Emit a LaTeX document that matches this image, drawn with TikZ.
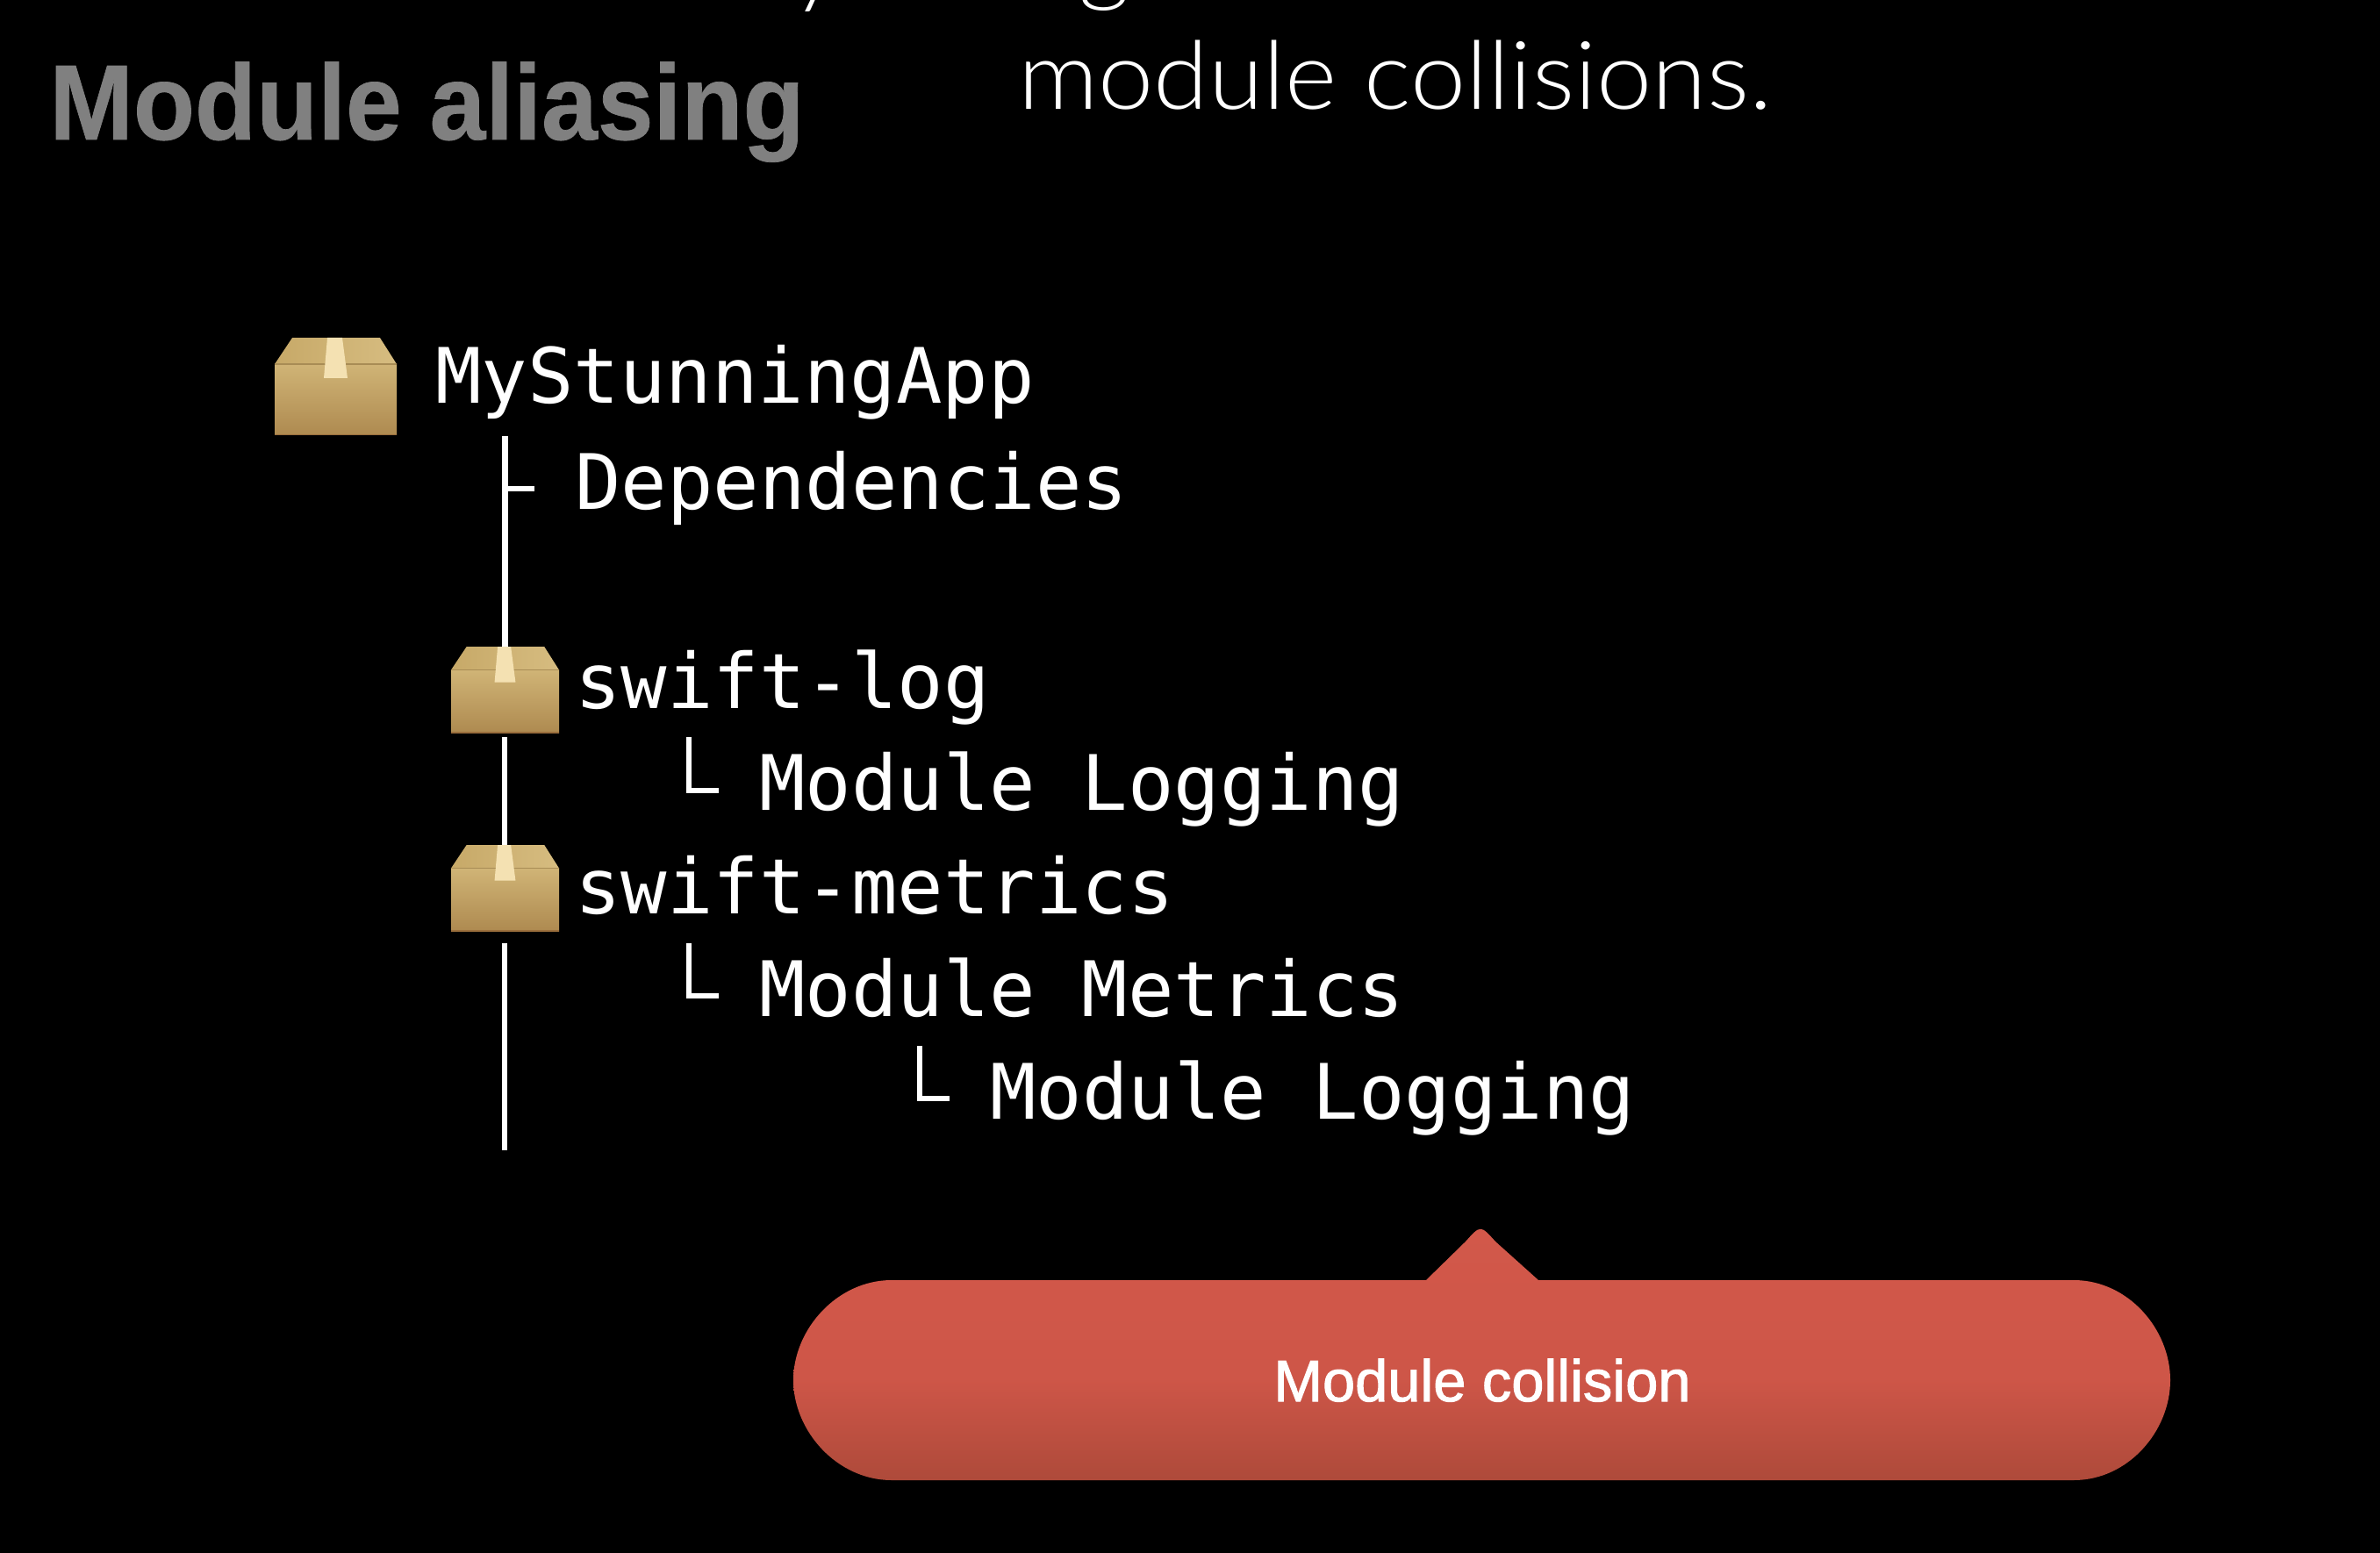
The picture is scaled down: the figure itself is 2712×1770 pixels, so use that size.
\documentclass[tikz,border=0pt]{standalone}
\usepackage{fontspec}
\setmainfont{Liberation Sans}
\newfontfamily\codefont{DejaVu Sans Mono}
\newfontfamily\lightfont{Lato}[UprightFont=* Light,FakeStretch=1.05]
\newfontfamily\titlefont{Liberation Sans Bold}[FakeStretch=0.94,FakeBold=0.6]
\newfontfamily\tagfont{Liberation Sans}[FakeBold=1.6]
\definecolor{bubblet}{HTML}{D2584A}
\definecolor{bubblem}{HTML}{CE5648}
\definecolor{bubbleb}{HTML}{AE4A3A}
\definecolor{cardflap}{HTML}{C7A968}
\definecolor{cardflaplight}{HTML}{D6BC80}
\definecolor{cardfronttop}{HTML}{D0B476}
\definecolor{cardfrontmid}{HTML}{CBAD6E}
\definecolor{cardfrontbot}{HTML}{AE8A50}
\definecolor{cardedge}{HTML}{9A6E3C}
\definecolor{cardfold}{HTML}{A88C55}
\definecolor{cardtape}{HTML}{F4E1B2}
\pgfdeclareverticalshading{bubbleshade}{100bp}{color(0bp)=(bubbleb); color(25bp)=(bubbleb); color(45bp)=(bubblem); color(75bp)=(bubblet); color(100bp)=(bubblet)}
\tikzset{
  code/.style={font=\codefont\fontsize{43.6}{50}\selectfont,text=white,anchor=base west,inner sep=0pt},
  rule/.style={draw=white,line width=3.5pt,line cap=butt},
  thinrule/.style={draw=white,line width=3pt,line cap=butt},
  elbow/.style={draw=white,line width=3.2pt,line cap=butt,line join=miter},
  pkgbox/.pic={
    \path[left color=cardflap,right color=cardflaplight]
      (0,30) -- (20,0) -- (120,0) -- (139,30) -- cycle;
    \path[top color=cardfronttop,middle color=cardfrontmid,bottom color=cardfrontbot] (0,30) rectangle (139,111);
    \draw[cardedge,line width=.8pt] (0,110.7) -- (139,110.7);
    \draw[cardfold,line width=.6pt] (0,30) -- (139,30);
    \fill[cardtape] (60,0) -- (77,0) -- (83,46) -- (56,46) -- cycle;
  }
}
\begin{document}
\begin{tikzpicture}[x=0.5pt,y=-0.5pt]
\useasboundingbox (0,0) rectangle (2712,1770);
\clip (0,0) rectangle (2712,1770);
\fill[black] (0,0) rectangle (2712,1770);

% cut-off line of the slide text
\node[font=\lightfont\fontsize{54}{60}\selectfont,text=white,anchor=base,inner sep=0pt] (topy) at (930,-5) {y};
\node[font=\lightfont\fontsize{54}{60}\selectfont,text=white,anchor=base,inner sep=0pt] (topg) at (1258,-7) {g};
\node[font=\lightfont\fontsize{54}{60}\selectfont,text=white,anchor=base west,inner sep=0pt] (sub) at (1160,125) {module collisions.};
\node[font=\titlefont\fontsize{61}{70}\selectfont,text=black!50,anchor=base west,inner sep=0pt] (title) at (56,159) {Module aliasing};

% tree lines
\coordinate (a1) at (575,497); \coordinate (a2) at (575,745);
\coordinate (b1) at (575,840); \coordinate (b2) at (575,970);
\coordinate (c1) at (575,1075); \coordinate (c2) at (575,1311);
\coordinate (t1) at (575,557); \coordinate (t2) at (609,557);
\draw[rule] (a1) -- (a2);
\draw[thinrule] (t1) -- (t2);
\draw[thinrule] (b1) -- (b2);
\draw[thinrule] (c1) -- (c2);

\coordinate (e1a) at (785,840); \coordinate (e1b) at (785,901); \coordinate (e1c) at (819,901);
\coordinate (e2a) at (785,1075); \coordinate (e2b) at (785,1135); \coordinate (e2c) at (819,1135);
\coordinate (e3a) at (1048,1192); \coordinate (e3b) at (1048,1252); \coordinate (e3c) at (1082,1252);
\draw[elbow] (e1a) -- (e1b) -- (e1c);
\draw[elbow] (e2a) -- (e2b) -- (e2c);
\draw[elbow] (e3a) -- (e3b) -- (e3c);

% packages
\pic at (313,385) {pkgbox};
\pic[scale=.885] at (514,737) {pkgbox};
\pic[scale=.885] at (514,963) {pkgbox};

% labels
\node[code] (app) at (496,459) {MyStunningApp};
\node[code] (deps) at (655,580) {Dependencies};
\node[code] (log) at (655,807) {swift-log};
\node[code] (logm) at (865,923) {Module Logging};
\node[code] (met) at (655,1041) {swift-metrics};
\node[code] (metm) at (865,1158) {Module Metrics};
\node[code] (logm2) at (1128,1275) {Module Logging};

% callout
\path[shading=bubbleshade]
  (1016,1459) -- (1625,1459) -- (1670,1415) .. controls (1687,1396) .. (1704,1415) -- (1753,1459) -- (2363,1459)
  .. controls (2425,1459) and (2473,1515) .. (2473,1573)
  .. controls (2473,1631) and (2425,1687) .. (2363,1687)
  -- (1016,1687)
  .. controls (954,1687) and (904,1631) .. (904,1573)
  .. controls (904,1515) and (954,1459) .. (1016,1459) -- cycle;
\node[font=\tagfont\fontsize{33.4}{40}\selectfont,text=white,anchor=base,inner sep=0pt] (tag) at (1689,1597) {Module collision};
\end{tikzpicture}
\end{document}
